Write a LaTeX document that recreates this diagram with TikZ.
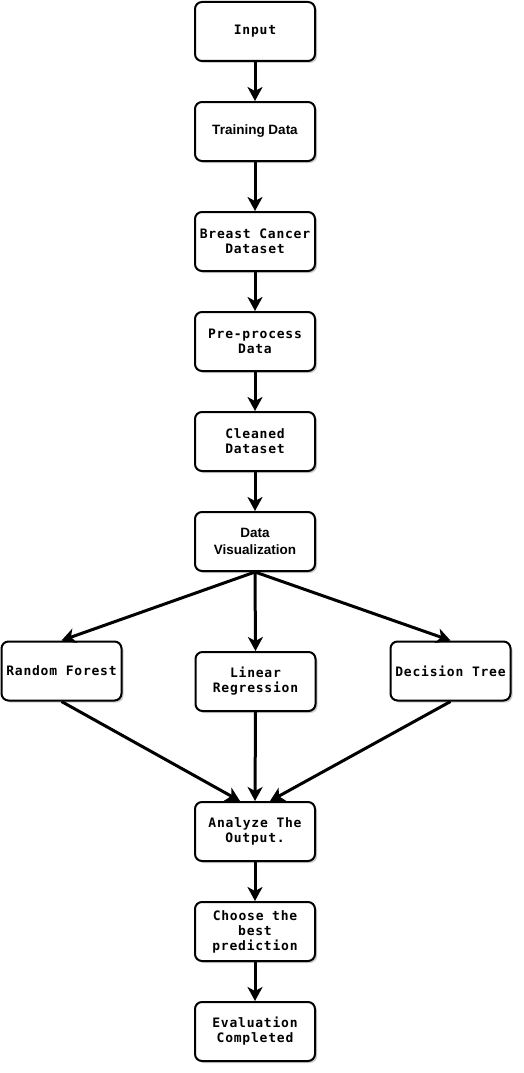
\documentclass[tikz,border=0pt]{standalone}
\usepackage{fontspec}
\newfontfamily\monob{DejaVu Sans Mono}[BoldFont={* Bold},LetterSpace=6]
\newfontfamily\sansb{Liberation Sans}[BoldFont={* Bold}]
\usetikzlibrary{arrows.meta,shadows}
\begin{document}
\begin{tikzpicture}[x=1pt,y=-1pt,
  box/.style={draw=black,line width=2pt,rounded corners=7pt,fill=white,
    minimum width=120pt,minimum height=59pt,inner sep=1pt,align=center,
    drop shadow={shadow xshift=2pt,shadow yshift=-2pt,opacity=0.2,fill=black}},
  mono/.style={font=\monob\bfseries\fontsize{13}{15}\selectfont},
  sans/.style={font=\sansb\bfseries\fontsize{13.5}{17}\selectfont},
  arr/.style={line width=3pt,-{Stealth[length=14pt,width=15pt,inset=4pt]}}]
\useasboundingbox (0,0) rectangle (523,1073);
\fill[white] (0,0) rectangle (523,1073);
\node[box,mono] (input) at (255,31.5) {Input};
\node[box,sans] (train) at (255,131.5) {Training Data};
\node[box,mono] (breast) at (255,241.5) {Breast Cancer\\Dataset};
\node[box,mono] (pre) at (255,341.5) {Pre-process\\Data};
\node[box,mono] (clean) at (255,441.5) {Cleaned\\Dataset};
\node[box,sans] (vis) at (255,541.5) {Data\\Visualization};
\node[box,mono] (rf) at (61.5,671) {Random Forest};
\node[box,mono] (lr) at (255.5,681.5) {Linear\\Regression};
\node[box,mono] (dt) at (450.5,671) {Decision Tree};
\node[box,mono] (an) at (255,831.5) {Analyze The\\Output.};
\node[box,mono] (ch) at (255,931.5) {Choose the\\best\\prediction};
\node[box,mono] (ev) at (255,1031.5) {Evaluation\\Completed};
\draw[arr] (input) -- (train);
\draw[arr] (train) -- (breast);
\draw[arr] (breast) -- (pre);
\draw[arr] (pre) -- (clean);
\draw[arr] (clean) -- (vis);
\draw[arr] (vis.south) -- (rf.north);
\draw[arr] (vis.south) -- (lr.north);
\draw[arr] (vis.south) -- (dt.north);
\draw[arr] (rf.south) -- ([xshift=-15pt]an.north);
\draw[arr] (lr.south) -- (an.north);
\draw[arr] (dt.south) -- ([xshift=15pt]an.north);
\draw[arr] (an) -- (ch);
\draw[arr] (ch) -- (ev);
\end{tikzpicture}
\end{document}
